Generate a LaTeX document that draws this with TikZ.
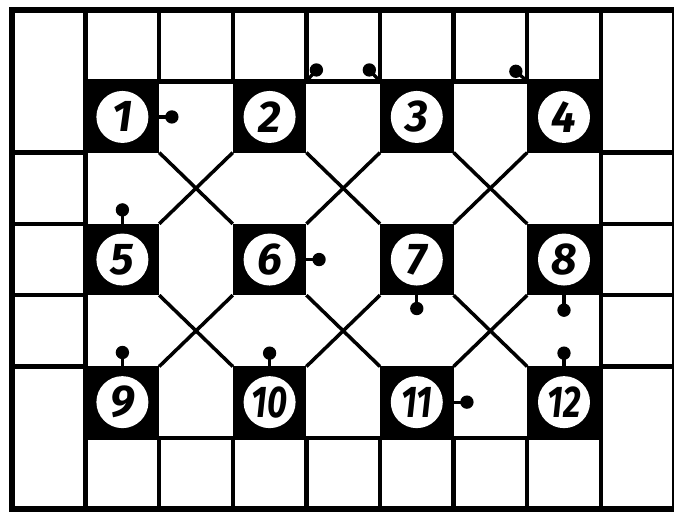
\documentclass[tikz,border=0pt]{standalone}
\usepackage{fontspec}
\usepackage{graphicx}
\newfontfamily\numfont{Fira Sans}
\begin{document}
\begin{tikzpicture}[x=2.208cm, y=2.139cm,
  grid/.style={line width=3.8pt},
  sq/.style={rectangle, fill=black, inner sep=0pt, outer sep=0pt,
    minimum width=2.208cm, minimum height=2.139cm,
    font=\numfont\bfseries\itshape\fontsize{38}{38}\selectfont,
    path picture={\fill[white] (path picture bounding box.center) circle (0.78cm);}},
  diag/.style={line width=3pt},
  stem/.style={line width=2.8pt}]
  \useasboundingbox (-0.36cm,-0.087cm) rectangle (19.86cm,15.273cm);
  % Outer ring of cells
  \draw[line width=4.6pt] (0,0) rectangle (9,7);
  \draw[grid] (1,1) rectangle (8,6);
  \foreach \x in {1,...,8} {
    \draw[grid] (\x,6) -- (\x,7);
    \draw[grid] (\x,0) -- (\x,1);
  }
  \foreach \y in {2,...,5} {
    \draw[grid] (0,\y) -- (1,\y);
    \draw[grid] (8,\y) -- (9,\y);
  }
  % Black squares with numbers
  \foreach \n in {1,...,12} {
    \pgfmathtruncatemacro\cl{mod(\n-1,4)}
    \pgfmathtruncatemacro\rw{(\n-1)/4}
    \node[sq] (s\n) at ({1.5+2*\cl},{5.5-2*\rw})
      {\ifnum\n>9 \scalebox{0.78}[1]{\n}\else\n\fi};
  }
  % Diagonals between the squares
  \foreach \a/\b in {1/6,2/7,3/8,5/10,6/11,7/12}
    \draw[diag] (s\a.south east) -- (s\b.north west);
  \foreach \a/\b in {2/5,3/6,4/7,6/9,7/10,8/11}
    \draw[diag] (s\a.south west) -- (s\b.north east);
  % Pins
  \foreach \n/\anc/\dx/\dy in {1/east/0.38/0, 2/north east/0.3/0.34,
      3/north west/-0.32/0.34, 4/north west/-0.34/0.3, 5/north/0/0.42,
      6/east/0.38/0, 7/south/0/-0.4, 8/south/0/-0.45, 9/north/0/0.42,
      10/north/0/0.4, 11/east/0.4/0, 12/north/0/0.4} {
    \draw[stem] (s\n.\anc) -- ++(\dx cm,\dy cm) coordinate (p\n);
    \fill (p\n) circle (0.2cm);
  }
\end{tikzpicture}
\end{document}
